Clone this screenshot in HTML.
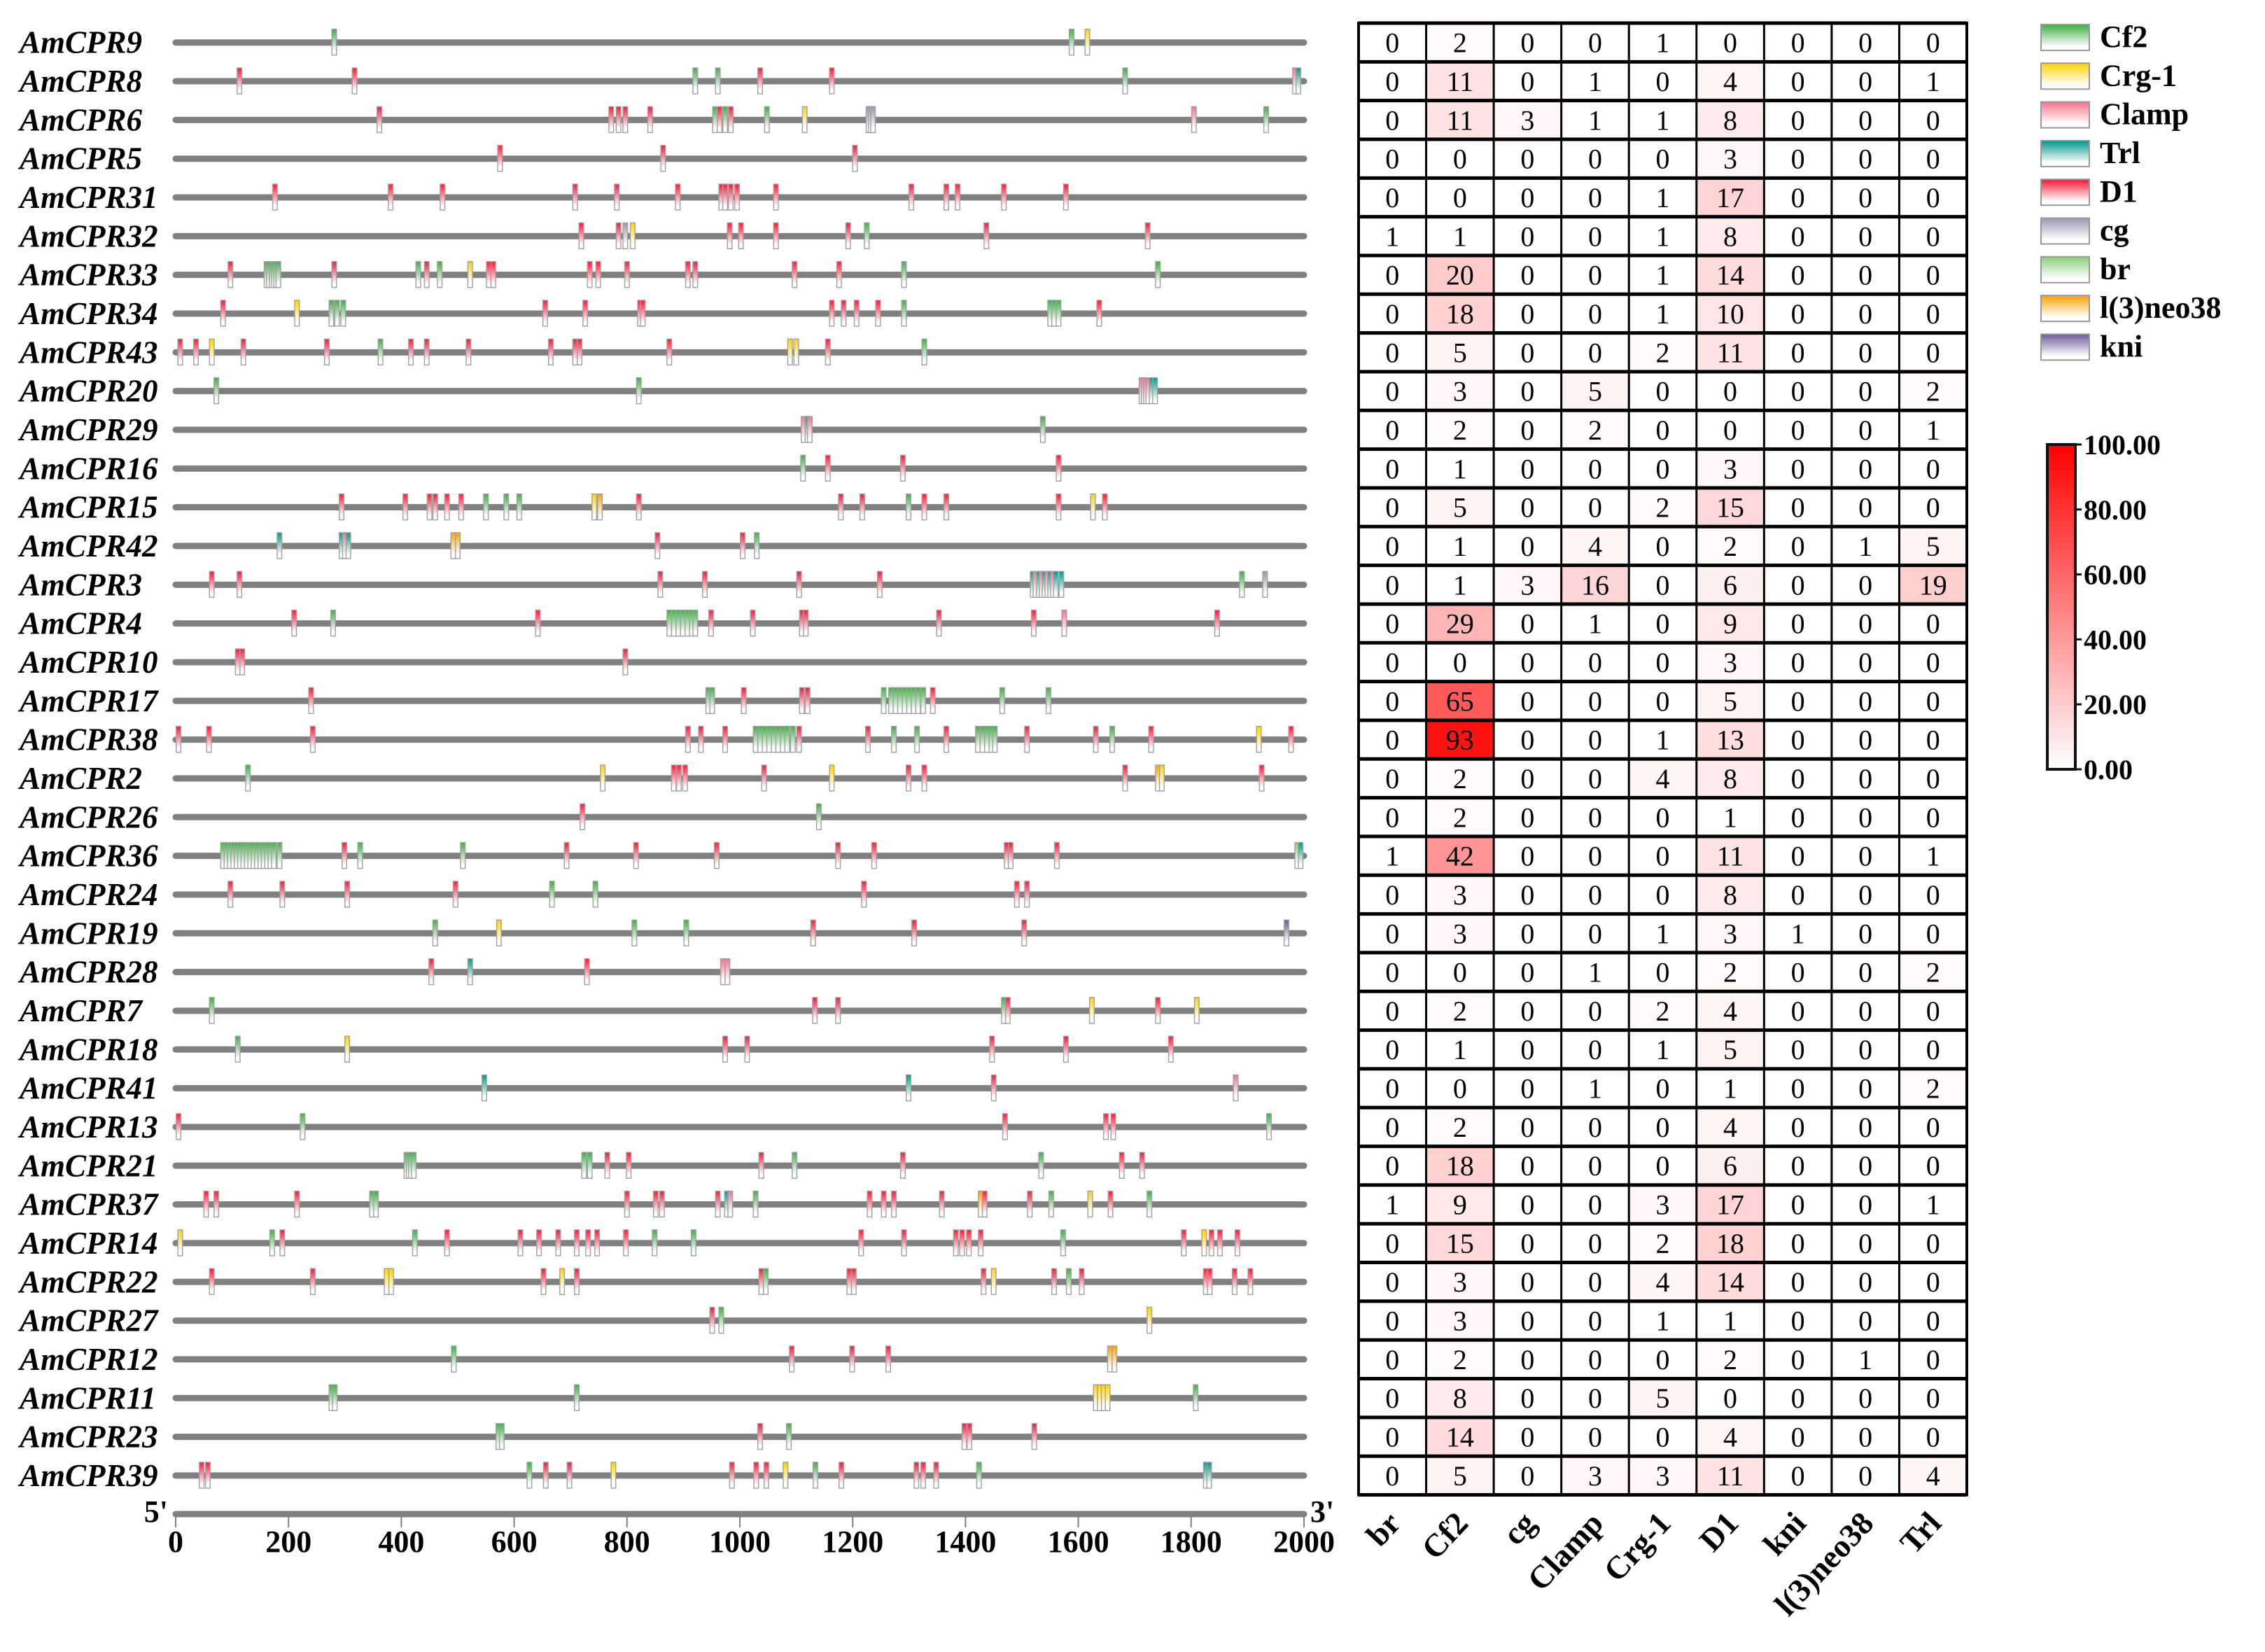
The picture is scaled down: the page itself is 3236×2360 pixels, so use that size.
<!DOCTYPE html>
<html><head><meta charset="utf-8">
<style>
html,body{margin:0;padding:0;background:#fff;}
svg{display:block;}
text{font-family:"Liberation Serif",serif;}
</style></head>
<body>
<svg id="chart" xmlns="http://www.w3.org/2000/svg" width="3236" height="2360" viewBox="0 0 3236 2360">
<defs id="defs"></defs>
<g id="tracks"></g>
<g id="axis"></g>
<g id="heat"></g>
<g id="legend"></g>
<g id="cbar"></g>
</svg>
<script>
const genes = ["AmCPR9","AmCPR8","AmCPR6","AmCPR5","AmCPR31","AmCPR32","AmCPR33","AmCPR34","AmCPR43","AmCPR20","AmCPR29","AmCPR16","AmCPR15","AmCPR42","AmCPR3","AmCPR4","AmCPR10","AmCPR17","AmCPR38","AmCPR2","AmCPR26","AmCPR36","AmCPR24","AmCPR19","AmCPR28","AmCPR7","AmCPR18","AmCPR41","AmCPR13","AmCPR21","AmCPR37","AmCPR14","AmCPR22","AmCPR27","AmCPR12","AmCPR11","AmCPR23","AmCPR39"];
const motifTypes = ["Cf2","Crg-1","Clamp","Trl","D1","cg","br","l(3)neo38","kni"];
const motifColors = {"Cf2":"#3fae45","Crg-1":"#ffd400","Clamp":"#f5728c","Trl":"#00988a","D1":"#ff1535","cg":"#9896b0","br":"#8ccf7c","l(3)neo38":"#ffa200","kni":"#6c5896"};
const heatCols = ["br","Cf2","cg","Clamp","Crg-1","D1","kni","l(3)neo38","Trl"];
const heatValues = [
[0,2,0,0,1,0,0,0,0],[0,11,0,1,0,4,0,0,1],[0,11,3,1,1,8,0,0,0],[0,0,0,0,0,3,0,0,0],
[0,0,0,0,1,17,0,0,0],[1,1,0,0,1,8,0,0,0],[0,20,0,0,1,14,0,0,0],[0,18,0,0,1,10,0,0,0],
[0,5,0,0,2,11,0,0,0],[0,3,0,5,0,0,0,0,2],[0,2,0,2,0,0,0,0,1],[0,1,0,0,0,3,0,0,0],
[0,5,0,0,2,15,0,0,0],[0,1,0,4,0,2,0,1,5],[0,1,3,16,0,6,0,0,19],[0,29,0,1,0,9,0,0,0],
[0,0,0,0,0,3,0,0,0],[0,65,0,0,0,5,0,0,0],[0,93,0,0,1,13,0,0,0],[0,2,0,0,4,8,0,0,0],
[0,2,0,0,0,1,0,0,0],[1,42,0,0,0,11,0,0,1],[0,3,0,0,0,8,0,0,0],[0,3,0,0,1,3,1,0,0],
[0,0,0,1,0,2,0,0,2],[0,2,0,0,2,4,0,0,0],[0,1,0,0,1,5,0,0,0],[0,0,0,1,0,1,0,0,2],
[0,2,0,0,0,4,0,0,0],[0,18,0,0,0,6,0,0,0],[1,9,0,0,3,17,0,0,1],[0,15,0,0,2,18,0,0,0],
[0,3,0,0,4,14,0,0,0],[0,3,0,0,1,1,0,0,0],[0,2,0,0,0,2,0,1,0],[0,8,0,0,5,0,0,0,0],
[0,14,0,0,0,4,0,0,0],[0,5,0,3,3,11,0,0,4]];
const xTicks = [0,200,400,600,800,1000,1200,1400,1600,1800,2000];
const cbarTicks = ["0.00","20.00","40.00","60.00","80.00","100.00"];
const motifs = [
["Cf2 281","Cf2 1588","Crg-1 1616"],
["D1 113","D1 317","Cf2 921","Cf2 961","D1 1036","D1 1163","Cf2 1683","Clamp 1984","Trl 1990"],
["D1 361","D1 772","D1 785","D1 797","D1 841","Cf2 956","D1 964","Cf2 974","D1 984","Cf2 1048","Crg-1 1115","cg 1228","cg 1232","cg 1236","Clamp 1805","Cf2 1933"],
["D1 575","D1 864","D1 1204"],
["D1 176","D1 381","D1 473","D1 708","D1 782","D1 890","D1 967","D1 974","D1 984","D1 995","D1 1064","D1 1304","D1 1366","D1 1386","D1 1468","D1 1578"],
["D1 719","D1 785","cg 797","Crg-1 810","D1 982","D1 1002","D1 1064","D1 1192","Cf2 1225","D1 1437","D1 1723"],
["D1 97","Cf2 161","Cf2 165","Cf2 170","Cf2 174","Cf2 178","Cf2 182","D1 281","Cf2 430","D1 445","Cf2 468","Crg-1 522","D1 555","D1 563","D1 734","D1 749","D1 800","D1 908","D1 921","D1 1097","D1 1176","Cf2 1291","Cf2 1741"],
["D1 84","Crg-1 215","Cf2 276","Cf2 286","Cf2 297","D1 655","D1 726","D1 823","D1 828","D1 1163","D1 1184","D1 1207","D1 1245","Cf2 1291","Cf2 1550","Cf2 1557","Cf2 1565","D1 1637"],
["D1 8","D1 36","Crg-1 64","D1 120","D1 268","Cf2 363","D1 417","D1 445","D1 519","D1 665","D1 708","D1 716","D1 875","Crg-1 1089","Crg-1 1100","D1 1156","Cf2 1327"],
["Cf2 72","Cf2 821","Clamp 1712","Clamp 1716","Clamp 1720","Clamp 1724","Trl 1730","Trl 1736"],
["Clamp 1113","Trl 1120","Clamp 1124","Cf2 1537"],
["Cf2 1112","D1 1156","D1 1289","D1 1565"],
["D1 294","D1 407","D1 450","D1 460","D1 481","D1 506","Cf2 550","Cf2 586","Cf2 609","Crg-1 742","l(3)neo38 752","D1 821","D1 1179","D1 1217","Cf2 1299","D1 1327","D1 1366","D1 1565","Crg-1 1626","D1 1647"],
["Trl 184","Trl 294","Clamp 300","Trl 306","l(3)neo38 492","l(3)neo38 500","D1 854","D1 1005","Cf2 1030"],
["D1 64","D1 113","D1 859","D1 938","D1 1105","D1 1248","Trl 1519","Clamp 1524","Trl 1530","Clamp 1535","Trl 1540","Clamp 1545","Trl 1550","Clamp 1555","Trl 1560","Trl 1570","Cf2 1890","cg 1931"],
["D1 210","Cf2 279","D1 642","Cf2 875","Cf2 883","Cf2 891","Cf2 899","Cf2 907","Cf2 915","Cf2 921","D1 949","D1 1023","D1 1110","D1 1117","D1 1353","D1 1521","Clamp 1575","D1 1846"],
["D1 110","D1 118","D1 797"],
["D1 240","Cf2 944","Cf2 951","D1 1007","D1 1110","D1 1120","Cf2 1255","Cf2 1268","Cf2 1276","Cf2 1284","Cf2 1292","Cf2 1300","Cf2 1308","Cf2 1316","Cf2 1325","D1 1342","Cf2 1465","Cf2 1547"],
["D1 5","D1 59","D1 243","D1 908","D1 931","D1 974","Cf2 1028","Cf2 1036","Cf2 1044","Cf2 1052","Cf2 1060","Cf2 1068","Cf2 1076","Cf2 1084","Cf2 1094","D1 1105","D1 1227","Cf2 1273","Cf2 1314","D1 1366","Cf2 1422","Cf2 1430","Cf2 1438","Cf2 1446","Cf2 1452","D1 1509","D1 1631","Cf2 1660","D1 1729","Crg-1 1920","D1 1977"],
["Cf2 128","D1 883","D1 892","Crg-1 757","D1 903","D1 1043","Crg-1 1163","D1 1299","D1 1327","D1 1683","l(3)neo38 1741","Crg-1 1748","D1 1925"],
["D1 721","Cf2 1140"],
["Cf2 84","Cf2 90","Cf2 96","Cf2 102","Cf2 108","Cf2 114","Cf2 120","Cf2 126","Cf2 132","Cf2 138","Cf2 144","Cf2 150","Cf2 156","Cf2 162","Cf2 168","Cf2 174","Cf2 184","D1 299","Cf2 327","Cf2 509","D1 693","D1 816","D1 959","D1 1174","D1 1238","D1 1473","D1 1480","D1 1562","br 1988","Trl 1994"],
["D1 97","D1 189","D1 304","D1 496","Cf2 667","Cf2 744","D1 1220","D1 1491","D1 1509"],
["Cf2 460","Crg-1 573","Cf2 813","Cf2 905","D1 1130","D1 1309","D1 1504","kni 1969"],
["D1 453","Trl 522","D1 729","Clamp 970","Clamp 978"],
["Cf2 64","D1 1133","D1 1174","Cf2 1468","D1 1475","Crg-1 1624","D1 1741","Crg-1 1810"],
["Cf2 110","Crg-1 304","D1 974","D1 1013","D1 1447","D1 1578","D1 1764"],
["Trl 547","Trl 1299","D1 1450","Clamp 1879"],
["D1 5","Cf2 225","D1 1470","D1 1649","D1 1662","Cf2 1938"],
["Cf2 409","Cf2 413","Cf2 417","Cf2 422","Cf2 724","Cf2 734","D1 765","D1 803","D1 1038","Cf2 1097","D1 1289","Cf2 1534","D1 1677","D1 1713"],
["D1 54","D1 72","D1 215","Cf2 348","Cf2 355","D1 800","D1 851","D1 862","D1 961","Trl 977","Clamp 983","Cf2 1028","D1 1230","D1 1255","D1 1273","D1 1358","l(3)neo38 1427","D1 1434","D1 1514","Cf2 1552","Crg-1 1621","D1 1657","Cf2 1726"],
["Crg-1 8","Cf2 171","D1 189","Cf2 424","D1 481","D1 611","D1 644","D1 678","D1 711","D1 731","D1 747","D1 798","Cf2 849","Cf2 918","D1 1215","D1 1291","D1 1383","D1 1394","D1 1406","D1 1427","Cf2 1573","D1 1787","Crg-1 1823","D1 1836","D1 1851","D1 1882"],
["D1 64","D1 243","Crg-1 374","Crg-1 382","D1 652","Crg-1 685","D1 711","D1 1038","Cf2 1046","D1 1194","D1 1202","D1 1432","Crg-1 1450","D1 1557","Cf2 1583","D1 1606","D1 1826","D1 1833","D1 1877","D1 1905"],
["D1 951","Cf2 967","Crg-1 1726"],
["Cf2 493","D1 1092","D1 1199","D1 1263","l(3)neo38 1656","l(3)neo38 1664"],
["Cf2 276","Cf2 282","Cf2 711","Crg-1 1631","Crg-1 1638","Crg-1 1645","Crg-1 1652","Cf2 1808"],
["Cf2 572","Cf2 578","D1 1036","Cf2 1087","D1 1398","D1 1407","D1 1522"],
["D1 46","D1 57","Cf2 627","D1 656","D1 698","Crg-1 776","D1 986","D1 1029","D1 1047","Crg-1 1081","Cf2 1134","D1 1180","D1 1313","D1 1325","D1 1348","Cf2 1424","Trl 1826","Trl 1832"]
];

const NS="http://www.w3.org/2000/svg";
function mk(tag, attrs, parent){const e=document.createElementNS(NS,tag);for(const k in attrs)e.setAttribute(k,attrs[k]);if(parent)parent.appendChild(e);return e;}
const X0=251, X1=1863, BPMAX=2000;
const xScale = bp => X0 + (X1-X0)*bp/BPMAX;
const ROW0=60.7, ROWH=55.33;
const yRow = i => ROW0 + i*ROWH;

const defs=document.getElementById('defs');
motifTypes.forEach((t,i)=>{
  const g=mk('linearGradient',{id:'g'+i,x1:0,y1:0,x2:0,y2:1},defs);
  mk('stop',{offset:'0','stop-color':motifColors[t]},g);
  mk('stop',{offset:'0.85','stop-color':'#ffffff'},g);
  mk('stop',{offset:'1','stop-color':'#ffffff'},g);
});
const cg=mk('linearGradient',{id:'cbg',x1:0,y1:1,x2:0,y2:0},defs);
mk('stop',{offset:'0','stop-color':'#ffffff'},cg);
mk('stop',{offset:'1','stop-color':'#ff0000'},cg);

const tracks=document.getElementById('tracks');
genes.forEach((gname,i)=>{
  const y=yRow(i);
  const lab=mk('text',{x:28,y:y+15,'font-size':45,'font-weight':'bold','font-style':'italic',fill:'#000'},tracks);
  lab.textContent=gname;
  
  
  const ln=mk('line',{x1:X0,y1:y,x2:X1,y2:y,stroke:'#808080','stroke-width':9,'stroke-linecap':'round'},tracks);
  
  
  motifs[i].forEach(s=>{
    const sp=s.lastIndexOf(' ');
    const t=s.slice(0,sp), bp=+s.slice(sp+1);
    const ti=motifTypes.indexOf(t);
    const r=mk('rect',{x:xScale(bp)-3.3,y:y-19,width:6.6,height:37,fill:'url(#g'+ti+')',stroke:'#a0a0a0','stroke-width':1.4},tracks);
    
    
  });
});

const axis=document.getElementById('axis');
const AY=2163;
mk('line',{x1:X0,y1:AY,x2:X1,y2:AY,stroke:'#808080','stroke-width':9,'stroke-linecap':'round'},axis);
xTicks.forEach(v=>{
  const x=xScale(v);
  mk('line',{x1:x,y1:AY,x2:x,y2:AY+19,stroke:'#808080','stroke-width':2},axis);
  const t=mk('text',{x:x,y:2217,'font-size':44,'font-weight':'bold','text-anchor':'middle',fill:'#000'},axis);
  t.textContent=v;
  
  
});
const p5=mk('text',{x:240,y:2174,'font-size':44,'font-weight':'bold','text-anchor':'end'},axis);p5.textContent="5'";


const p3=mk('text',{x:1872,y:2174,'font-size':44,'font-weight':'bold'},axis);p3.textContent="3'";



const heat=document.getElementById('heat');
const HX=1941, HW=(2810-1941)/9, HY=33;
const heatColor=v=>{const f=Math.min(v,100)/100;const c=Math.round(255*(1-f));return 'rgb(255,'+c+','+c+')';};
heatValues.forEach((row,i)=>{
  row.forEach((v,j)=>{
    const x=HX+j*HW, y=HY+i*ROWH;
    const r=mk('rect',{x:x,y:y,width:HW,height:ROWH,fill:heatColor(v)},heat);
    
    
    const t=mk('text',{x:x+HW/2,y:y+ROWH/2+14,'font-size':40,'text-anchor':'middle',fill:'#000'},heat);
    t.textContent=v;
  });
});
for(let i=0;i<=genes.length;i++){mk('line',{x1:HX,y1:HY+i*ROWH,x2:HX+9*HW,y2:HY+i*ROWH,stroke:'#000','stroke-width':5},heat);}
for(let j=0;j<=9;j++){mk('line',{x1:HX+j*HW,y1:HY-2,x2:HX+j*HW,y2:HY+genes.length*ROWH+2,stroke:'#000','stroke-width':(j==0||j==9)?4:3},heat);}
heatCols.forEach((c,j)=>{
  const cx=HX+j*HW+HW/2+14, cy=2178;
  const t=mk('text',{x:cx,y:cy,'font-size':46,'font-weight':'bold','text-anchor':'end',transform:'rotate(-47 '+cx+' '+cy+')'},heat);
  t.textContent=c;
  
  
});

const legend=document.getElementById('legend');
motifTypes.forEach((t,i)=>{
  const y=35+i*55.3;
  const r=mk('rect',{x:2916,y:y,width:69,height:37,fill:'url(#g'+i+')',stroke:'#999','stroke-width':2},legend);
  
  
  const tx=mk('text',{x:3000,y:y+32,'font-size':44,'font-weight':'bold'},legend);
  tx.textContent=t;
  
  
});

const cbar=document.getElementById('cbar');
const CB_T=635, CB_B=1099;
const cr=mk('rect',{x:2925,y:CB_T,width:40,height:CB_B-CB_T,fill:'url(#cbg)',stroke:'#111','stroke-width':4},cbar);


cbarTicks.forEach((lab,i)=>{
  const y=CB_B-(CB_B-CB_T)*(+lab)/100;
  mk('line',{x1:2965,y1:y,x2:2974,y2:y,stroke:'#111','stroke-width':3},cbar);
  const t=mk('text',{x:2977,y:y+14,'font-size':40,'font-weight':'bold'},cbar);
  t.textContent=lab;
  
  
});
</script>
</body></html>
